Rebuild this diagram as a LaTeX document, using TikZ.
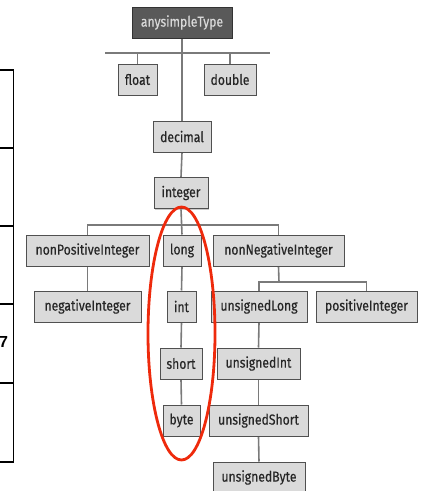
\documentclass[tikz,border=0pt]{standalone}
\usepackage{fontspec}
\setmainfont{Liberation Sans}
\newfontfamily\boxfont[FakeStretch=0.84,FakeBold=0.4]{Fira Sans}
\usetikzlibrary{shadows,shapes.geometric,backgrounds}
\definecolor{boxfill}{HTML}{DADADA}
\definecolor{boxline}{HTML}{505050}
\definecolor{conn}{HTML}{7A7A7A}
\definecolor{rootfill}{HTML}{595959}
\definecolor{ovalred}{HTML}{EE2A0C}
\tikzset{
  tbox/.style={draw=boxline, line width=1pt, fill=boxfill, minimum height=31pt,
    inner sep=0pt, font=\boxfont\fontsize{14.5}{16}\selectfont, text=black!85,
    drop shadow={shadow xshift=1pt, shadow yshift=-1pt, fill=black!35, opacity=0.6}},
  rootbox/.style={tbox, fill=rootfill, draw=black!80, text=white!85!black},
  conn/.style={draw=conn, line width=1.6pt},
  tline/.style={draw=black, line width=1.4pt}
}
\begin{document}
\begin{tikzpicture}[x=1pt,y=-1pt]
\useasboundingbox (0,0) rectangle (423,491);
% left table fragment
\coordinate (t0) at (0,70);
\coordinate (t1) at (0,148);
\coordinate (t2) at (0,226);
\coordinate (t3) at (0,304);
\coordinate (t4) at (0,383);
\coordinate (t5) at (0,462);
\coordinate (vt) at (13.5,70);
\coordinate (vb) at (13.5,462);
\draw[tline] (vt) -- (vb);
\foreach \c in {t0,t1,t2,t3,t4,t5} \draw[tline] (\c) -- (\c -| vt);
\node[font=\bfseries\fontsize{16}{18}\selectfont, inner sep=0pt, anchor=west] (seven) at (-1,341.5) {7};
% nodes
\node[rootbox, minimum width=100pt] (any) at (182,22.5) {anysimpleType};
\node[tbox, minimum width=39pt] (float) at (137.5,79.5) {float};
\node[tbox, minimum width=52pt] (double) at (230,79.5) {double};
\node[tbox, minimum width=58pt] (decimal) at (182,136.5) {decimal};
\node[tbox, minimum width=54pt] (integer) at (181,193) {integer};
\node[tbox, minimum width=123pt] (npi) at (87.5,250.5) {nonPositiveInteger};
\node[tbox, minimum width=38pt] (long) at (182,250.5) {long};
\node[tbox, minimum width=131pt] (nni) at (278.5,250.5) {nonNegativeInteger};
\node[tbox, minimum width=107pt] (ni) at (87.5,306.5) {negativeInteger};
\node[tbox, minimum width=29pt] (int) at (181.5,306.5) {int};
\node[tbox, minimum width=96pt] (ulong) at (259,306.5) {unsignedLong};
\node[tbox, minimum width=101pt] (pi) at (366.5,306.5) {positiveInteger};
\node[tbox, minimum width=42pt] (short) at (181,363.5) {short};
\node[tbox, minimum width=83pt] (uint) at (258.5,363.5) {unsignedInt};
\node[tbox, minimum width=37pt] (byte) at (181.5,420.5) {byte};
\node[tbox, minimum width=99pt] (ushort) at (258.5,420.5) {unsignedShort};
\node[tbox, minimum width=92pt] (ubyte) at (259,477.5) {unsignedByte};
% connectors
\begin{scope}[on background layer]
\coordinate (b1l) at (105,53);
\coordinate (b1r) at (270,53);
\draw[conn] (b1l) -- (b1r);
\draw[conn] (any.south) -- (decimal.north);
\draw[conn] (float.north) -- (float.north |- b1l);
\draw[conn] (double.north) -- (double.north |- b1l);
\draw[conn] (decimal.south) -- (integer.north);
\coordinate (b2) at (181,225);
\draw[conn] (integer.south) -- (long.north);
\draw[conn] (npi.north) |- (b2) -| (nni.north);
\draw[conn] (npi.south) -- (ni.north);
\draw[conn] (long.south) -- (int.north);
\draw[conn] (int.south) -- (short.north);
\draw[conn] (short.south) -- (byte.north);
\coordinate (b3) at (279,282);
\draw[conn] (nni.south) -- (b3);
\draw[conn] (ulong.north) |- (b3) -| (pi.north);
\draw[conn] (ulong.south) -- (uint.north);
\draw[conn] (uint.south) -- (ushort.north);
\draw[conn] (ushort.south) -- (ubyte.north);
\end{scope}
% red oval
\node[draw=ovalred, line width=2.8pt, ellipse, minimum width=67pt, minimum height=253pt, inner sep=0pt] (oval) at (181.5,333.5) {};
\end{tikzpicture}
\end{document}
